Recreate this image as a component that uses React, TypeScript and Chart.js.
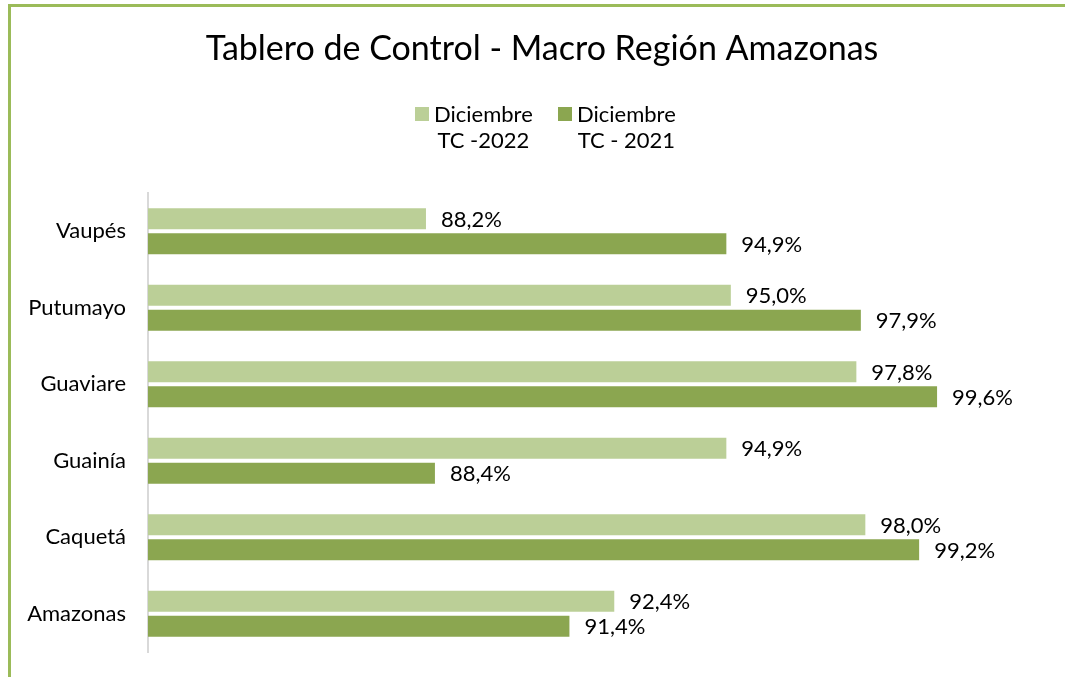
import React, { useEffect, useRef } from "react";
import { Chart, registerables } from "chart.js";

Chart.register(...registerables);

const categories = ["Vaupés", "Putumayo", "Guaviare", "Guainía", "Caquetá", "Amazonas"];
const series2022 = [88.2, 95.0, 97.8, 94.9, 98.0, 92.4];
const series2021 = [94.9, 97.9, 99.6, 88.4, 99.2, 91.4];
const seriesLabels = [["Diciembre", "TC -2022"], ["Diciembre", "TC - 2021"]];
const title = "Tablero de Control - Macro Región Amazonas";

const LIGHT = "#BBCF97";
const DARK = "#8BA650";
const FONT = "Lato, 'Open Sans', sans-serif";

const fmt = (v: number) => v.toFixed(1).replace(".", ",") + "%";

const labelPlugin = {
  id: "barLabels",
  afterDatasetsDraw(chart: any) {
    const ctx = chart.ctx;
    ctx.save();
    ctx.font = `22px ${FONT}`;
    ctx.fillStyle = "#000";
    ctx.textAlign = "left";
    ctx.textBaseline = "middle";
    chart.data.datasets.forEach((ds: any, di: number) => {
      const meta = chart.getDatasetMeta(di);
      meta.data.forEach((bar: any, i: number) => {
        ctx.fillText(fmt(ds.data[i]), bar.x + 15, bar.y + 1);
      });
    });
    ctx.restore();
  },
};

const headerPlugin = {
  id: "header",
  afterDraw(chart: any) {
    const ctx = chart.ctx;
    ctx.save();
    ctx.fillStyle = "#000";
    ctx.font = `34px ${FONT}`;
    ctx.textAlign = "center";
    ctx.textBaseline = "middle";
    ctx.fillText(title, 531, 42);

    const items = [
      { color: LIGHT, text: seriesLabels[0], x: 404 },
      { color: DARK, text: seriesLabels[1], x: 547 },
    ];
    ctx.font = `22px ${FONT}`;
    items.forEach((it) => {
      ctx.fillStyle = it.color;
      ctx.fillRect(it.x, 100, 14, 14);
      ctx.fillStyle = "#000";
      const w0 = ctx.measureText(it.text[0]).width;
      ctx.textAlign = "left";
      ctx.fillText(it.text[0], it.x + 19, 108);
      ctx.textAlign = "center";
      ctx.fillText(it.text[1], it.x + 19 + w0 / 2, 134);
    });
    ctx.restore();
  },
};

export default function App() {
  const ref = useRef<HTMLCanvasElement>(null);
  useEffect(() => {
    document.body.style.overflow = "hidden";
    const chart = new Chart(ref.current!, {
      type: "bar",
      data: {
        labels: categories,
        datasets: [
          { label: seriesLabels[0].join(" "), data: series2022, backgroundColor: LIGHT, categoryPercentage: 0.654, barPercentage: 0.84 },
          { label: seriesLabels[1].join(" "), data: series2021, backgroundColor: DARK, categoryPercentage: 0.654, barPercentage: 0.84 },
        ],
      },
      options: {
        indexAxis: "y",
        animation: false,
        responsive: false,
        layout: { padding: { left: 0, right: 126, top: 186, bottom: 25 } },
        plugins: {
          legend: { display: false },
          tooltip: { enabled: false },
          title: { display: false },
        },
        scales: {
          x: { display: false, min: 82, max: 100 },
          y: {
            grid: { display: false, drawTicks: false },
            border: { display: true, color: "#D9D9D9", width: 2 },
            ticks: { color: "#000", font: { family: FONT, size: 22 }, padding: 22 },
            afterFit: (s: any) => { s.width = 137; s.paddingTop = 0; s.paddingBottom = 0; },
          },
        },
      },
      plugins: [labelPlugin, headerPlugin],
    });
    return () => chart.destroy();
  }, []);
  return (
    <div style={{ position: "absolute", left: 8, top: 4, width: 1070, height: 690, border: "3px solid #9BBB59", background: "#fff", overflow: "hidden" }}>
      <canvas ref={ref} width={1070} height={670} />
    </div>
  );
}
